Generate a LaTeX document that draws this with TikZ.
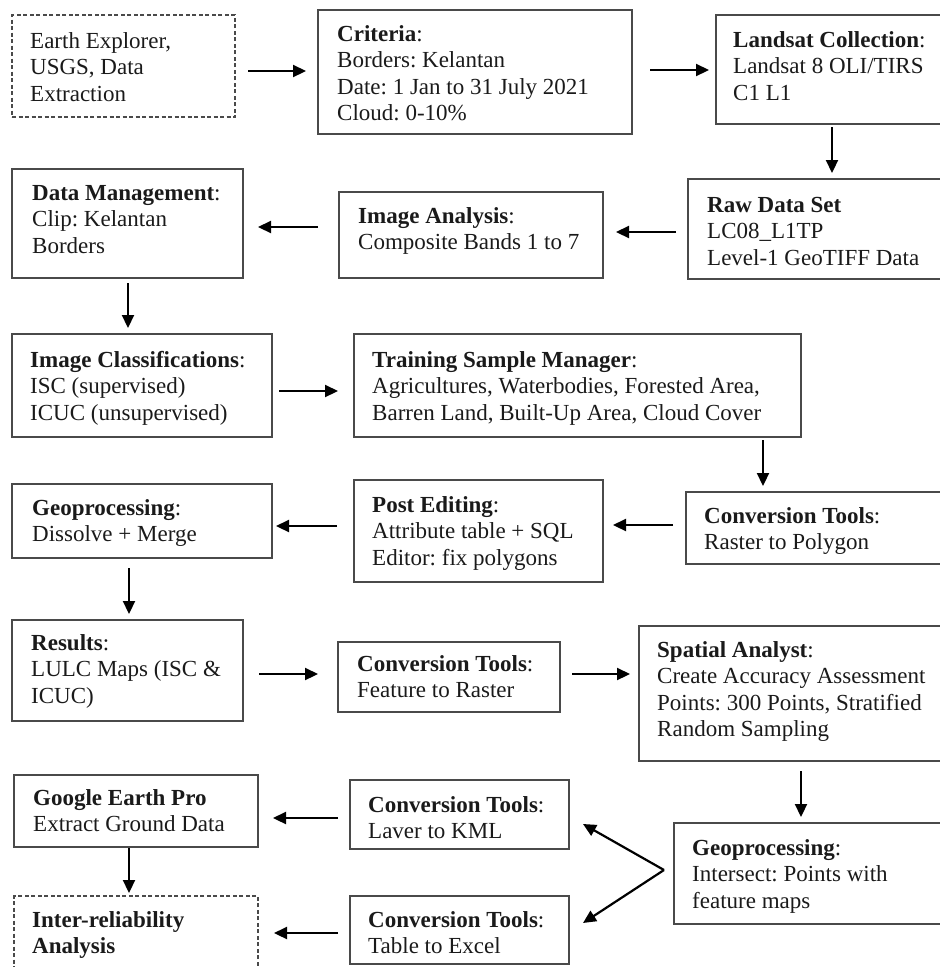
\documentclass[tikz,border=0pt]{standalone}
\usepackage{fontspec}
\setmainfont{Liberation Serif}
\usetikzlibrary{arrows.meta,calc}
\definecolor{boxgray}{HTML}{4A4A4A}
\definecolor{textblack}{HTML}{1A1A1A}
\tikzset{
  boxstyle/.style={draw=boxgray, line width=1.5pt, inner sep=0pt, outer sep=0pt},
  dashbox/.style={boxstyle, dash pattern=on 4pt off 2.5pt},
  txt/.style={anchor=base west, align=left, inner sep=0pt, text=textblack, font=\fontsize{23}{26.5}\selectfont\frenchspacing},
  arr/.style={draw=black, line width=2.2pt, -{Triangle[length=13pt,width=12pt]}},
}
\newcommand{\mkbox}[6]{\node[#1, anchor=north west, minimum width=#5pt-#3pt, minimum height=#6pt-#4pt] (#2) at (#3,#4) {};}
% name, x, first baseline y, number of lines, text
\newcommand{\mktxt}[5]{\node[txt] (#1) at ({#2},{#3+(#4-1)*26.5}) {#5};}
\begin{document}
\begin{tikzpicture}[x=1pt,y=-1pt]
\useasboundingbox (0,0) rectangle (940,967);
\clip (0,0) rectangle (940,967);
% boxes
\mkbox{dashbox}{b1}{12}{15}{235}{117}
\mkbox{boxstyle}{b2}{318}{10}{632}{134}
\mkbox{boxstyle}{b3}{716}{15}{948}{124}
\mkbox{boxstyle}{b4}{688}{179}{948}{279}
\mkbox{boxstyle}{b5}{339}{192}{603}{278}
\mkbox{boxstyle}{b6}{12}{169}{243}{278}
\mkbox{boxstyle}{b7}{12}{334}{272}{437}
\mkbox{boxstyle}{b8}{354}{334}{801}{437}
\mkbox{boxstyle}{b9}{686}{492}{948}{564}
\mkbox{boxstyle}{b10}{354}{480}{603}{582}
\mkbox{boxstyle}{b11}{12}{484}{272}{558}
\mkbox{boxstyle}{b12}{12}{620}{243}{721}
\mkbox{boxstyle}{b13}{338}{642}{560}{712}
\mkbox{boxstyle}{b14}{639}{626}{948}{761}
\mkbox{boxstyle}{b15}{674}{823}{948}{924}
\mkbox{boxstyle}{b16}{350}{780}{569}{849}
\mkbox{boxstyle}{b17}{350}{896}{569}{964}
\mkbox{boxstyle}{b18}{14}{775}{258}{847}
\mkbox{dashbox}{b19}{14}{896}{258}{975}
% texts
\mktxt{t1}{30}{48}{3}{Earth Explorer,\\USGS, Data\\Extraction}
\mktxt{t2}{337}{41}{4}{\textbf{Criteria}:\\Borders: Kelantan\\Date: 1 Jan to 31 July 2021\\Cloud: 0-10\%}
\mktxt{t3}{733}{47}{3}{\textbf{Landsat Collection}:\\Landsat 8 OLI/TIRS\\C1 L1}
\mktxt{t4}{707}{212}{3}{\textbf{Raw Data Set}\\LC08\_L1TP\\Level-1 GeoTIFF Data}
\mktxt{t5}{358}{223}{2}{\textbf{Image Analysis}:\\Composite Bands 1 to 7}
\mktxt{t6}{32}{200}{3}{\textbf{Data Management}:\\Clip: Kelantan\\Borders}
\mktxt{t7}{30}{367}{3}{\textbf{Image Classifications}:\\ISC (supervised)\\ICUC (unsupervised)}
\mktxt{t8}{372}{367}{3}{\textbf{Training Sample Manager}:\\Agricultures, Waterbodies, Forested Area,\\Barren Land, Built-Up Area, Cloud Cover}
\mktxt{t9}{704}{523}{2}{\textbf{Conversion Tools}:\\Raster to Polygon}
\mktxt{t10}{372}{512}{3}{\textbf{Post Editing}:\\Attribute table + SQL\\Editor: fix polygons}
\mktxt{t11}{32}{515}{2}{\textbf{Geoprocessing}:\\Dissolve + Merge}
\mktxt{t12}{31}{650}{3}{\textbf{Results}:\\LULC Maps (ISC \&\\ICUC)}
\mktxt{t13}{357}{671}{2}{\textbf{Conversion Tools}:\\Feature to Raster}
\mktxt{t14}{657}{657}{4}{\textbf{Spatial Analyst}:\\Create Accuracy Assessment\\Points: 300 Points, Stratified\\Random Sampling}
\mktxt{t15}{692}{855}{3}{\textbf{Geoprocessing}:\\Intersect: Points with\\feature maps}
\mktxt{t16}{368}{812}{2}{\textbf{Conversion Tools}:\\Laver to KML}
\mktxt{t17}{368}{927}{2}{\textbf{Conversion Tools}:\\Table to Excel}
\mktxt{t18}{33}{805}{2}{\textbf{Google Earth Pro}\\Extract Ground Data}
\mktxt{t19}{32}{927}{2}{\textbf{Inter-reliability}\\\textbf{Analysis}}
% connectors
\draw[arr] ([shift={(13,5)}]b1.east) -- ([shift={(-12,-1)}]b2.west);
\draw[arr] ([shift={(18,-2)}]b2.east) -- ([shift={(-7,0.5)}]b3.west);
\draw[arr] ([shift={(0,3)}]b3.south) -- ([shift={(14,-6)}]b4.north);
\draw[arr] ([shift={(-12,3)}]b4.west) -- ([shift={(13,-3)}]b5.east);
\draw[arr] ([shift={(-21,-8)}]b5.west) -- ([shift={(15,3.5)}]b6.east);
\draw[arr] ([shift={(0.5,5)}]b6.south) -- ([shift={(-14,-6)}]b7.north);
\draw[arr] ([shift={(7,5.5)}]b7.east) -- ([shift={(-16,5.5)}]b8.west);
\draw[arr] ([shift={(185.5,3)}]b8.south) -- ([shift={(-54,-6)}]b9.north);
\draw[arr] ([shift={(-13,-3)}]b9.west) -- ([shift={(10,-6)}]b10.east);
\draw[arr] ([shift={(-17,-5)}]b10.west) -- ([shift={(4,5)}]b11.east);
\draw[arr] ([shift={(-13,10)}]b11.south) -- ([shift={(1.5,-6)}]b12.north);
\draw[arr] ([shift={(16,3.5)}]b12.east) -- ([shift={(-20,-3)}]b13.west);
\draw[arr] ([shift={(12,-3)}]b13.east) -- ([shift={(-9,-19.5)}]b14.west);
\draw[arr] ([shift={(7.5,10)}]b14.south) -- ([shift={(-10,-6)}]b15.north);
\coordinate (fork) at ([shift={(-10,-3.5)}]b15.west);
\draw[arr] (fork) -- ([shift={(14,9.5)}]b16.east);
\draw[arr] (fork) -- ([shift={(14,-7)}]b17.east);
\draw[arr] ([shift={(-12,3.5)}]b16.west) -- ([shift={(15,7)}]b18.east);
\draw[arr] ([shift={(-7,1)}]b18.south) -- ([shift={(-7,-3)}]b19.north);
\draw[arr] ([shift={(-12,3)}]b17.west) -- ([shift={(16,-2.5)}]b19.east);
\end{tikzpicture}
\end{document}
